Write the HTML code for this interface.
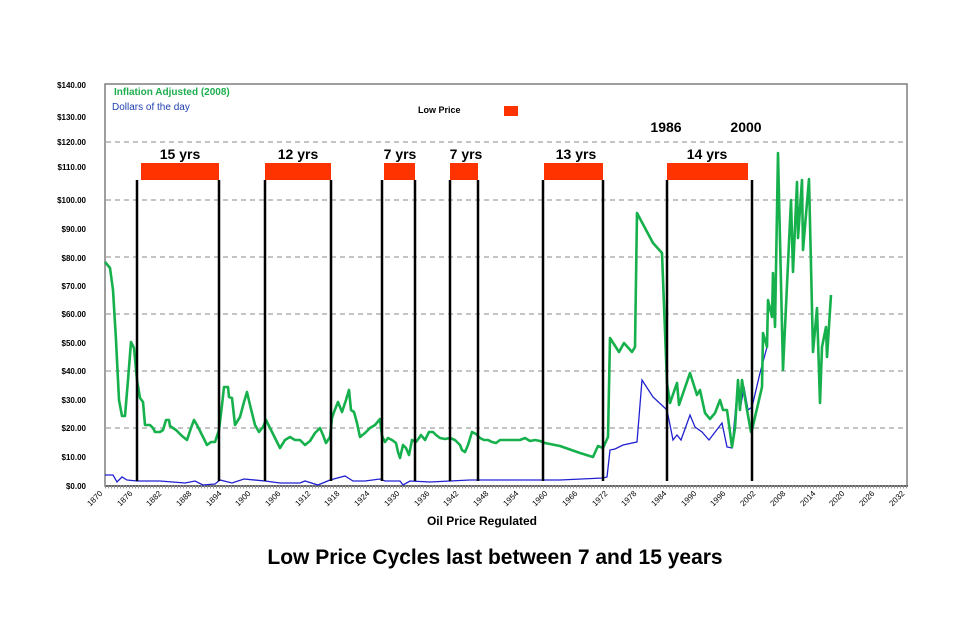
<!DOCTYPE html>
<html><head><meta charset="utf-8"><style>
body{margin:0;background:#fff}
svg{display:block;font-family:"Liberation Sans",sans-serif}
</style></head><body>
<svg width="955" height="637" viewBox="0 0 955 637">
<rect width="955" height="637" fill="#fff"/>
<!-- frame -->
<rect x="105" y="84" width="802" height="402" fill="none" stroke="#7f7f7f" stroke-width="1.5"/>
<g stroke="#8a8a8a" stroke-dasharray="5,4" stroke-width="1">
<line x1="106" y1="142" x2="906" y2="142"/><line x1="106" y1="200" x2="906" y2="200"/>
<line x1="106" y1="257" x2="906" y2="257"/><line x1="106" y1="314" x2="906" y2="314"/>
<line x1="106" y1="371" x2="906" y2="371"/><line x1="106" y1="428" x2="906" y2="428"/>
</g>
<line x1="105" y1="486" x2="908" y2="486" stroke="#666" stroke-width="2"/>
<line x1="105" y1="487" x2="908" y2="487" stroke="#999" stroke-width="3" stroke-dasharray="1,2"/>
<!-- y labels -->
<g font-size="8" font-weight="bold" text-anchor="end" fill="#000">
<text x="86" y="88">$140.00</text><text x="86" y="120">$130.00</text><text x="86" y="145">$120.00</text>
<text x="86" y="170">$110.00</text><text x="86" y="203">$100.00</text><text x="86" y="232">$90.00</text>
<text x="86" y="261">$80.00</text><text x="86" y="289">$70.00</text><text x="86" y="317">$60.00</text>
<text x="86" y="346">$50.00</text><text x="86" y="374">$40.00</text><text x="86" y="403">$30.00</text>
<text x="86" y="431">$20.00</text><text x="86" y="460">$10.00</text><text x="86" y="489">$0.00</text>
</g>
<!-- x labels -->
<g font-size="8" fill="#000" text-anchor="end">
<text transform="translate(103,494) rotate(-45)">1870</text>
<text transform="translate(133,494) rotate(-45)">1876</text>
<text transform="translate(162,494) rotate(-45)">1882</text>
<text transform="translate(192,494) rotate(-45)">1888</text>
<text transform="translate(222,494) rotate(-45)">1894</text>
<text transform="translate(251,494) rotate(-45)">1900</text>
<text transform="translate(281,494) rotate(-45)">1906</text>
<text transform="translate(311,494) rotate(-45)">1912</text>
<text transform="translate(340,494) rotate(-45)">1918</text>
<text transform="translate(370,494) rotate(-45)">1924</text>
<text transform="translate(400,494) rotate(-45)">1930</text>
<text transform="translate(430,494) rotate(-45)">1936</text>
<text transform="translate(459,494) rotate(-45)">1942</text>
<text transform="translate(489,494) rotate(-45)">1948</text>
<text transform="translate(519,494) rotate(-45)">1954</text>
<text transform="translate(548,494) rotate(-45)">1960</text>
<text transform="translate(578,494) rotate(-45)">1966</text>
<text transform="translate(608,494) rotate(-45)">1972</text>
<text transform="translate(637,494) rotate(-45)">1978</text>
<text transform="translate(667,494) rotate(-45)">1984</text>
<text transform="translate(697,494) rotate(-45)">1990</text>
<text transform="translate(726,494) rotate(-45)">1996</text>
<text transform="translate(756,494) rotate(-45)">2002</text>
<text transform="translate(786,494) rotate(-45)">2008</text>
<text transform="translate(816,494) rotate(-45)">2014</text>
<text transform="translate(845,494) rotate(-45)">2020</text>
<text transform="translate(875,494) rotate(-45)">2026</text>
<text transform="translate(905,494) rotate(-45)">2032</text>
</g>
<!-- red bars -->
<g fill="#ff3300">
<rect x="141" y="163" width="78" height="17"/><rect x="265" y="163" width="66" height="17"/>
<rect x="384" y="163" width="31" height="17"/><rect x="450" y="163" width="28" height="17"/>
<rect x="544" y="163" width="59" height="17"/><rect x="667" y="163" width="81" height="17"/>
<rect x="504" y="106" width="14" height="10"/>
</g>
<g font-size="14" font-weight="bold" text-anchor="middle">
<text x="180" y="159">15 yrs</text><text x="298" y="159">12 yrs</text>
<text x="400" y="159">7 yrs</text><text x="466" y="159">7 yrs</text>
<text x="576" y="159">13 yrs</text><text x="707" y="159">14 yrs</text>
<text x="666" y="132">1986</text><text x="746" y="132">2000</text>
</g>
<text x="418" y="113" font-size="9" font-weight="bold">Low Price</text>
<text x="114" y="95" font-size="10" font-weight="bold" fill="#1fae4f">Inflation Adjusted (2008)</text>
<text x="112" y="110" font-size="10" fill="#1f3fb0">Dollars of the day</text>
<!-- series -->
<polyline fill="none" stroke="#2020d0" stroke-width="1.3" points="105,475 113,475 117,482 122,477 127,480 137,481 160,481 185,483 195,481 203,485 215,484 220,480 232,483 244,479 265,481 280,483 300,483 305,481 318,485 330,480 345,476 353,481 365,481 380,479 385,481 400,481 403,485 410,481 430,482 450,481 470,480 500,480 530,480 560,480 603,478 607,477 610,450 615,449 623,445 637,442 642,380 653,397 667,410 673,440 677,435 681,440 690,415 695,427 702,432 709,440 722,423 727,447 732,448 738,382 740,410 744,387 748,410 752,407 760,373 767,347"/>
<polyline fill="none" stroke="#16b04c" stroke-width="2.6" stroke-linejoin="round" points="105,262 110,268 113,290 116,340 119,400 122,416 125,416 128,380 131,342 134,348 137,380 140,398 143,402 145,425 150,425 153,428 155,432 160,432 163,430 166,420 169,420 170,426 176,430 182,436 187,440 191,428 194,420 197,425 202,435 207,445 211,442 215,442 219,430 222,405 224,387 228,387 229,397 232,398 235,425 240,417 244,402 247,392 250,405 255,425 259,432 263,427 266,420 270,428 276,440 280,448 285,440 290,437 295,440 300,440 305,445 310,441 315,433 320,428 323,435 326,443 330,437 332,418 334,412 338,402 342,412 346,400 349,390 351,410 354,412 357,423 360,437 365,433 370,428 375,425 380,419 382,436 385,442 388,438 392,440 396,443 398,452 400,458 403,445 406,448 409,455 412,440 416,442 419,438 421,435 425,440 429,432 433,432 436,435 440,438 445,439 450,438 455,440 460,445 462,450 465,452 468,445 472,432 476,434 480,438 484,440 488,440 492,442 496,443 500,440 510,440 520,440 525,438 530,441 535,440 540,441 545,443 560,446 580,453 593,457 598,446 603,448 608,437 610,338 619,352 624,343 632,352 635,347 637,213 653,243 662,253 667,383 670,403 677,383 679,405 690,373 697,395 700,390 705,413 710,419 715,413 720,400 723,410 727,410 732,447 735,428 738,380 740,410 742,380 747,410 751,432 752,430 762,387 763,333 767,347 768,300 772,317 773,273 775,327 778,153 783,370 791,200 793,272 797,182 798,238 802,180 803,250 809,179 813,352 817,308 820,403 822,347 826,327 827,357 831,295"/>
<!-- vertical lines -->
<g stroke="#000" stroke-width="2.5">
<line x1="137" y1="180" x2="137" y2="481"/><line x1="219" y1="180" x2="219" y2="481"/>
<line x1="265" y1="180" x2="265" y2="481"/><line x1="331" y1="180" x2="331" y2="481"/>
<line x1="382" y1="180" x2="382" y2="481"/><line x1="415" y1="180" x2="415" y2="481"/>
<line x1="450" y1="180" x2="450" y2="481"/><line x1="478" y1="180" x2="478" y2="481"/>
<line x1="543" y1="180" x2="543" y2="481"/><line x1="603" y1="180" x2="603" y2="481"/>
<line x1="667" y1="180" x2="667" y2="481"/><line x1="752" y1="180" x2="752" y2="481"/>
</g>
<text x="482" y="525" font-size="12" font-weight="bold" text-anchor="middle">Oil Price Regulated</text>
<text x="495" y="564" font-size="21" font-weight="bold" text-anchor="middle">Low Price Cycles last between 7 and 15 years</text>
</svg>
</body></html>
